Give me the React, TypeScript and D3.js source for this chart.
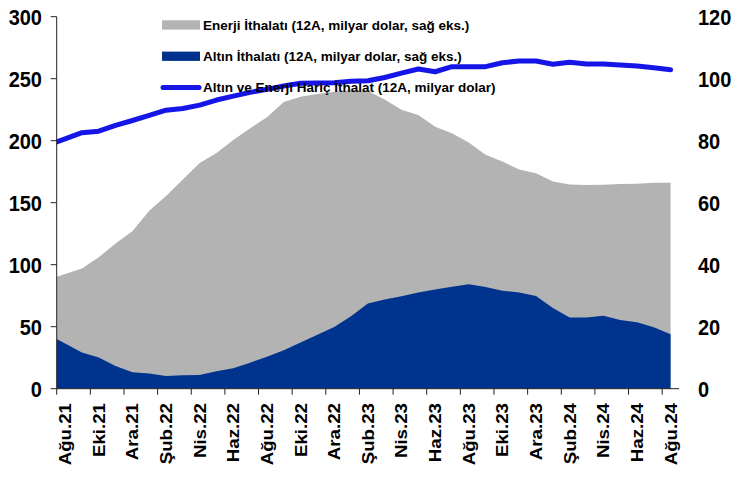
import React from 'react';
import * as d3 from 'd3';

// 12-month rolling figures, Aug 2021 - Aug 2024
const months = [
  'Ağu.21', 'Eyl.21', 'Eki.21', 'Kas.21', 'Ara.21', 'Oca.22', 'Şub.22', 'Mar.22', 'Nis.22', 'May.22',
  'Haz.22', 'Tem.22', 'Ağu.22', 'Eyl.22', 'Eki.22', 'Kas.22', 'Ara.22', 'Oca.23', 'Şub.23', 'Mar.23',
  'Nis.23', 'May.23', 'Haz.23', 'Tem.23', 'Ağu.23', 'Eyl.23', 'Eki.23', 'Kas.23', 'Ara.23', 'Oca.24',
  'Şub.24', 'Mar.24', 'Nis.24', 'May.24', 'Haz.24', 'Tem.24', 'Ağu.24',
];

// right axis
const energy = [
  37.0, 38.8, 42.4, 46.8, 50.8, 57.4, 62.2, 67.5, 72.8, 76.0,
  80.2, 84.0, 87.6, 92.5, 94.2, 95.1, 95.8, 96.3, 96.0, 93.3,
  90.0, 88.3, 84.5, 82.4, 79.4, 75.5, 73.3, 70.7, 69.5, 66.8,
  65.9, 65.7, 65.8, 66.0, 66.1, 66.4, 66.4,
];
const gold = [
  14.6, 11.7, 10.1, 7.3, 5.3, 4.9, 4.1, 4.3, 4.4, 5.6,
  6.6, 8.4, 10.3, 12.4, 14.9, 17.4, 19.9, 23.4, 27.5, 28.8,
  29.8, 31.0, 32.0, 32.9, 33.7, 32.8, 31.6, 31.0, 29.9, 26.0,
  23.0, 23.0, 23.5, 22.2, 21.4, 19.8, 17.6,
];
// left axis
const core = [
  201.5, 206.5, 207.7, 212.4, 216.3, 220.5, 224.6, 226.0, 228.7, 232.8,
  236.0, 239.0, 241.4, 244.1, 246.3, 246.5, 246.8, 247.9, 248.3, 251.0,
  254.5, 257.8, 255.6, 259.7, 259.7, 259.7, 262.9, 264.3, 264.3, 261.6,
  263.2, 261.9, 261.9, 261.0, 260.2, 258.9, 257.3,
];

const leftTicks = [0, 50, 100, 150, 200, 250, 300];
const rightTicks = [0, 20, 40, 60, 80, 100, 120];

const legendItems = [
  { label: 'Enerji İthalatı (12A, milyar dolar, sağ eks.)', color: '#b3b3b3', kind: 'box' },
  { label: 'Altın İthalatı (12A, milyar dolar, sağ eks.)', color: '#00338d', kind: 'box' },
  { label: 'Altın ve Enerji Hariç İthalat (12A, milyar dolar)', color: '#1515e8', kind: 'line' },
];

const W = 739;
const H = 477;
const left = 56.7;
const right = 679;
const top = 16.7;
const bottom = 388.7;
const font = '"Liberation Sans", Arial, sans-serif';

export default function App() {
  const x = d3.scaleBand<string>().domain(months).range([left, right]);
  const bw = x.bandwidth();
  const cx = (i: number) => (x(months[i]) as number) + bw / 2;
  const yL = d3.scaleLinear().domain([0, 300]).range([bottom, top]);
  const yR = d3.scaleLinear().domain([0, 120]).range([bottom, top]);

  // points at category centres, first segment carried back to the plot edge
  const pts = (vals: number[]) => {
    const p = vals.map((v, i) => [cx(i), v] as [number, number]);
    const v0 = vals[0] - (vals[1] - vals[0]) / 2;
    return [[left, v0] as [number, number], ...p];
  };

  const areaR = d3.area<[number, number]>()
    .x(d => d[0])
    .y0(yR(0))
    .y1(d => yR(d[1]));
  const lineL = d3.line<[number, number]>()
    .x(d => d[0])
    .y(d => yL(d[1]));

  const tickIdx = months.map((_, i) => i).filter(i => i % 2 === 0);

  return (
    <svg width={W} height={H} style={{ position: 'absolute', left: 0, top: 0, background: '#fff' }}
      fontFamily={font} fontWeight="bold">
      <defs>
        <clipPath id="plot">
          <rect x={left} y={0} width={right - left + 10} height={bottom} />
        </clipPath>
      </defs>

      <g clipPath="url(#plot)">
        <path d={areaR(pts(energy)) || ''} fill="#b3b3b3" />
        <path d={areaR(pts(gold)) || ''} fill="#00338d" />
        <path d={lineL(pts(core)) || ''} fill="none" stroke="#1515e8" strokeWidth={5}
          strokeLinejoin="round" strokeLinecap="round" />
      </g>

      {/* left axis */}
      <line x1={left} x2={left} y1={top} y2={bottom} stroke="#222" />
      {leftTicks.map(t => (
        <g key={'l' + t}>
          <line x1={left - 6} x2={left} y1={yL(t)} y2={yL(t)} stroke="#222" />
          <text transform={`translate(42,${yL(t)}) scale(1,1.1)`} dy="0.36em" textAnchor="end"
            fontSize={20} fill="#000">{t}</text>
        </g>
      ))}

      {/* right axis labels */}
      {rightTicks.map(t => (
        <text key={'r' + t} transform={`translate(698,${yR(t)}) scale(1,1.1)`} dy="0.36em"
          textAnchor="start" fontSize={20} fill="#000">{t}</text>
      ))}

      {/* bottom axis */}
      <line x1={left} x2={right} y1={bottom} y2={bottom} stroke="#222" />
      {tickIdx.map(i => (
        <g key={'x' + i}>
          <line x1={x(months[i])} x2={x(months[i])} y1={bottom} y2={bottom + 6} stroke="#222" />
          <text transform={`translate(${cx(i) + 6},403) rotate(-90) scale(1.1,1)`} textAnchor="end"
            fontSize={17} fill="#000">{months[i]}</text>
        </g>
      ))}

      {/* legend */}
      {legendItems.map((d, k) => {
        const yy = 25 + k * 31.3;
        return (
          <g key={d.label}>
            {d.kind === 'box'
              ? <rect x={162} y={yy - 4.7} width={38} height={9.3} fill={d.color} />
              : <line x1={163} x2={199} y1={yy} y2={yy} stroke={d.color} strokeWidth={5} strokeLinecap="round" />}
            <text x={203} y={yy} dy="0.36em" fontSize={13.5} fill="#000">{d.label}</text>
          </g>
        );
      })}
    </svg>
  );
}
